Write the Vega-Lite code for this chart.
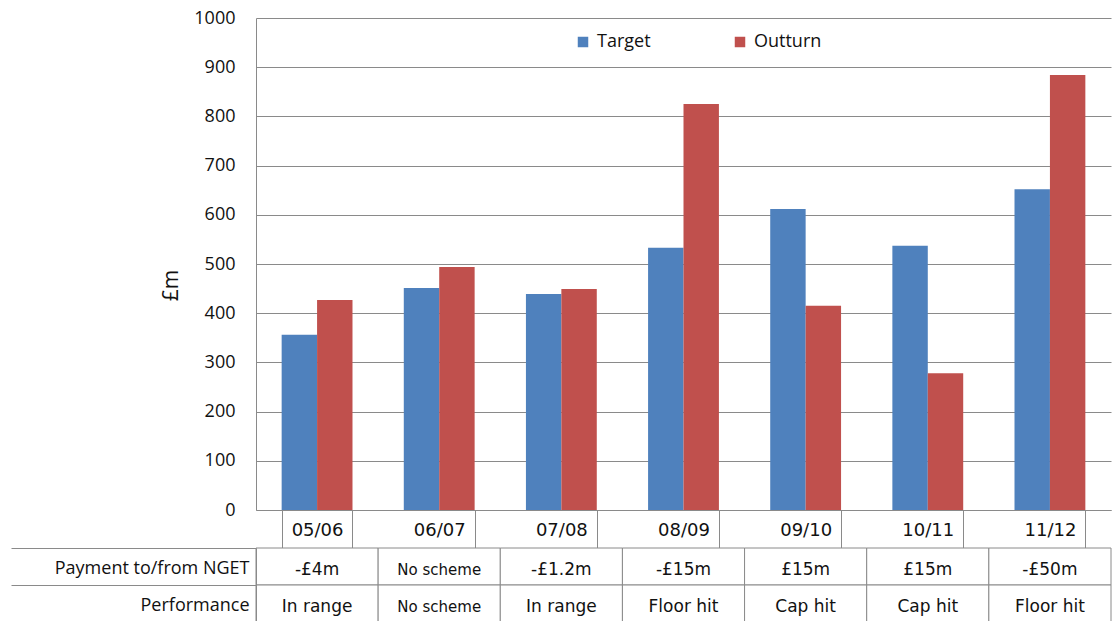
{
  "$schema": "https://vega.github.io/schema/vega-lite/v6.json",
  "padding": {"left": 10, "top": 9, "right": 0, "bottom": 0},
  "background": "white",
  "spacing": 38,
  "bounds": "flush",
  "config": {"view": {"stroke": null}, "font": "Open Sans"},
  "datasets": {
    "bars": [
      {"year": "05/06", "series": "Target", "value": 356},
      {"year": "05/06", "series": "Outturn", "value": 427},
      {"year": "06/07", "series": "Target", "value": 451},
      {"year": "06/07", "series": "Outturn", "value": 494},
      {"year": "07/08", "series": "Target", "value": 439},
      {"year": "07/08", "series": "Outturn", "value": 449},
      {"year": "08/09", "series": "Target", "value": 533},
      {"year": "08/09", "series": "Outturn", "value": 825},
      {"year": "09/10", "series": "Target", "value": 612},
      {"year": "09/10", "series": "Outturn", "value": 415},
      {"year": "10/11", "series": "Target", "value": 537},
      {"year": "10/11", "series": "Outturn", "value": 278},
      {"year": "11/12", "series": "Target", "value": 652},
      {"year": "11/12", "series": "Outturn", "value": 884}
    ],
    "table": [
      {"year": "05/06", "row": "Payment to/from NGET", "text": "-£4m"},
      {"year": "06/07", "row": "Payment to/from NGET", "text": "No scheme"},
      {"year": "07/08", "row": "Payment to/from NGET", "text": "-£1.2m"},
      {"year": "08/09", "row": "Payment to/from NGET", "text": "-£15m"},
      {"year": "09/10", "row": "Payment to/from NGET", "text": "£15m"},
      {"year": "10/11", "row": "Payment to/from NGET", "text": "£15m"},
      {"year": "11/12", "row": "Payment to/from NGET", "text": "-£50m"},
      {"year": "05/06", "row": "Performance", "text": "In range"},
      {"year": "06/07", "row": "Performance", "text": "No scheme"},
      {"year": "07/08", "row": "Performance", "text": "In range"},
      {"year": "08/09", "row": "Performance", "text": "Floor hit"},
      {"year": "09/10", "row": "Performance", "text": "Cap hit"},
      {"year": "10/11", "row": "Performance", "text": "Cap hit"},
      {"year": "11/12", "row": "Performance", "text": "Floor hit"}
    ]
  },
  "vconcat": [
    {
      "width": 855,
      "height": 492,
      "data": {"name": "bars"},
      "mark": {"type": "bar"},
      "encoding": {
        "x": {
          "field": "year", "type": "nominal", "sort": null,
          "scale": {"paddingInner": 0.42, "paddingOuter": 0.21},
          "axis": {
            "title": null, "labelAngle": 0, "labelFontSize": 18, "labelColor": "#111",
            "labelFont": "DejaVu Sans",
            "tickBand": "extent", "tickSize": 38, "tickColor": "#8a8a8a",
            "domainColor": "#8a8a8a", "labelPadding": -27, "labelBaseline": "top"
          }
        },
        "xOffset": {"field": "series", "type": "nominal", "sort": ["Target", "Outturn"], "scale": {"paddingInner": 0}},
        "y": {
          "field": "value", "type": "quantitative",
          "scale": {"domain": [0, 1000], "nice": false},
          "axis": {
            "title": "£m", "titleFontSize": 21, "titleFontWeight": "normal", "titleColor": "#111",
            "titlePadding": 12, "titleFont": "Open Sans", "titleY": 267,
            "values": [0, 100, 200, 300, 400, 500, 600, 700, 800, 900, 1000], "format": "d",
            "labelFontSize": 18, "labelColor": "#111", "labelPadding": 21,
            "ticks": false, "grid": true, "gridColor": "#8a8a8a", "gridOpacity": 1,
            "domainColor": "#8a8a8a"
          }
        },
        "color": {
          "field": "series", "type": "nominal",
          "scale": {"domain": ["Target", "Outturn"], "range": ["#4F81BD", "#C0504D"]},
          "legend": {
            "title": null, "orient": "none", "legendX": 318, "legendY": 15,
            "direction": "horizontal", "symbolType": "square", "symbolSize": 110,
            "symbolStrokeWidth": 0, "labelFontSize": 18, "labelColor": "#111",
            "columnPadding": 80, "labelOffset": 5
          }
        }
      }
    },
    {
      "width": 855,
      "height": 74,
      "data": {"name": "table"},
      "encoding": {
        "x": {"field": "year", "type": "nominal", "sort": null, "scale": {"paddingInner": 0, "paddingOuter": 0}, "axis": null},
        "y": {
          "field": "row", "type": "nominal", "sort": ["Payment to/from NGET", "Performance"],
          "scale": {"paddingInner": 0, "paddingOuter": 0},
          "axis": {
            "title": null, "tickBand": "extent", "tickSize": 245, "tickColor": "#8a8a8a",
            "domainColor": "#8a8a8a", "labelPadding": -238, "labelFontSize": 18,
            "labelColor": "#111", "labelFont": "Open Sans", "labelLimit": 400, "labelOffset": 2
          }
        }
      },
      "layer": [
        {"mark": {"type": "rect", "fill": "white", "stroke": "#8a8a8a", "strokeWidth": 1}},
        {
          "mark": {"type": "text", "font": "DejaVu Sans", "color": "#111", "dy": 3},
          "encoding": {
            "text": {"field": "text"},
            "size": {"condition": {"test": "datum.text === 'No scheme'", "value": 15}, "value": 17}
          }
        }
      ]
    }
  ]
}
